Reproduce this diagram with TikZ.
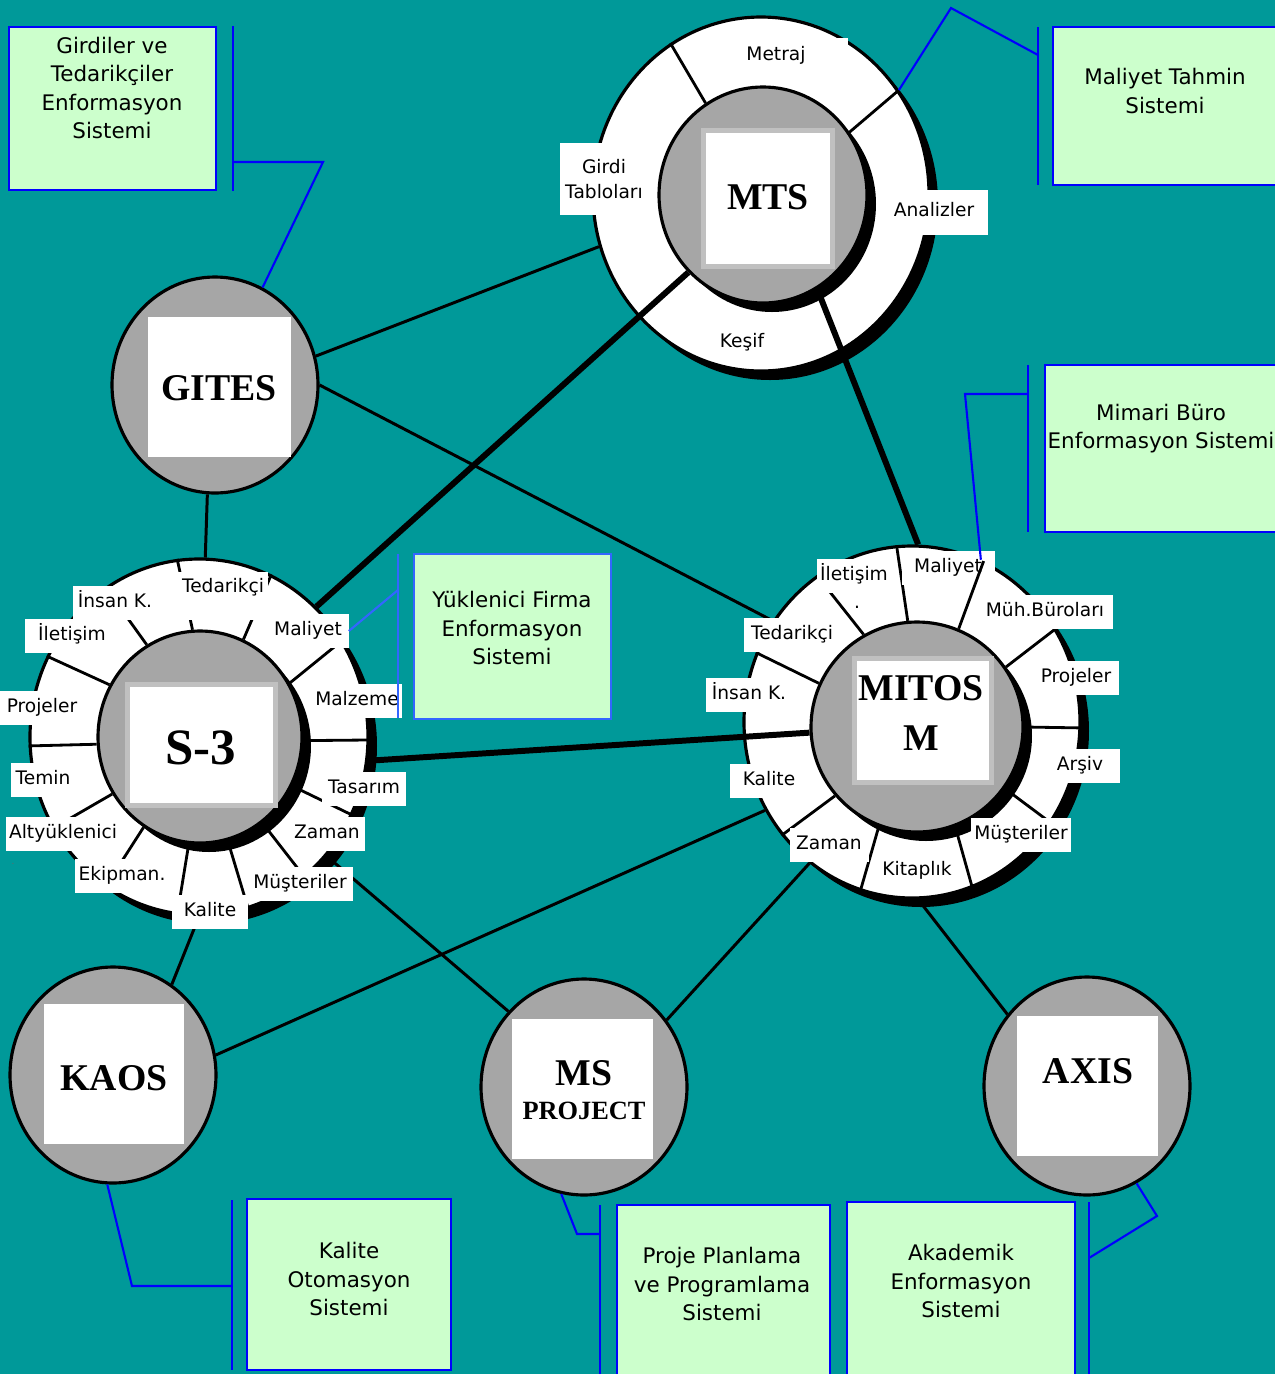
\documentclass[tikz,border=0pt]{standalone}
\usepackage{fontspec}
\setmainfont{DejaVu Sans}
\newfontfamily\hubfont{Liberation Serif}
\usetikzlibrary{shapes.geometric,shadows}

\definecolor{sea}{HTML}{009999}
\definecolor{mint}{HTML}{CCFFCC}
\definecolor{callblue}{HTML}{0000FF}
\definecolor{softblue}{HTML}{3366FF}
\definecolor{hubgrey}{HTML}{A6A6A6}
\definecolor{framegrey}{HTML}{C0C0C0}

\newcommand{\pix}{0.02cm}

\tikzset{
  shade it/.style={drop shadow={shadow xshift=0.18cm,shadow yshift=-0.18cm,opacity=1,fill=black}},
  ring/.style 2 args={ellipse,draw,line width=1.8pt,fill=white,inner sep=0pt,
    minimum width=#1*\pix,minimum height=#2*\pix,shade it},
  core/.style 2 args={ring={#1}{#2},fill=hubgrey},
  hub/.style 2 args={ellipse,draw,line width=1.8pt,fill=hubgrey,inner sep=0pt,
    minimum width=#1*\pix,minimum height=#2*\pix},
  plate/.style 2 args={rectangle,fill=white,draw=framegrey,line width=2.8pt,inner sep=0pt,
    minimum width=#1*\pix,minimum height=#2*\pix},
  hubtext/.style={font=\hubfont\bfseries\fontsize{21.5}{28.3}\selectfont,align=center,inner sep=0pt},
  lblbox/.style={fill=white,inner xsep=2pt,inner ysep=2pt,align=center,
    minimum height=34*\pix,font=\fontsize{10.6}{14.2}\selectfont},
  lbl/.style={lblbox,minimum width=#1*\pix,text height=7.8pt,text depth=2.4pt},
  infobox/.style 2 args={rectangle,draw=callblue,line width=1.3pt,fill=mint,inner sep=0pt,
    minimum width=#1*\pix,minimum height=#2*\pix},
  infotext/.style={font=\fontsize{12.2}{16.3}\selectfont,align=center,inner sep=0pt},
  link/.style={line width=1.7pt},
  heavy/.style={line width=3.4pt},
  spoke/.style={line width=1.6pt},
  callout/.style={callblue,line width=1.2pt}
}

\begin{document}
\begin{tikzpicture}[x=0.02cm,y=-0.02cm]
\useasboundingbox (0,0) rectangle (1275,1374);
\clip (0,0) rectangle (1275,1374);
\fill[sea] (0,0) rectangle (1275,1374);

% Hubs with rings
\node[ring={336}{354}] (mtsout) at (761,194) {};
\node[core={208}{216}] (mtsin) at (763,195) {};
\node[plate={129}{136}] (mtsplate) at (768,198.5) {};
\node[hubtext] (mtstxt) at (768,197) {MTS};

\node[ring={338}{356}] (s3out) at (199,737) {};
\node[core={204}{212}] (s3in) at (200,737) {};
\node[plate={148}{121}] (s3plate) at (201.5,745) {};
\node[hubtext,font=\hubfont\bfseries\fontsize{29}{34}\selectfont] (s3txt) at (201,748) {S-3};

\node[ring={336}{352}] (moout) at (912,722) {};
\node[core={212}{210}] (moin) at (917,727) {};
\node[plate={137}{124}] (moplate) at (923,720.5) {};
\node[hubtext] (motxt) at (921,713) {MITOS\\M};

% Plain hubs
\node[hub={206}{216}] (gites) at (215,385) {};
\node[plate={143}{140},draw=none] (gitesplate) at (219.5,387) {};
\node[hubtext] (gitestxt) at (219,388) {GITES};

\node[hub={206}{216}] (kaos) at (113,1075) {};
\node[plate={140}{140},draw=none] (kaosplate) at (114,1074) {};
\node[hubtext] (kaostxt) at (114,1078) {KAOS};

\node[hub={206}{216}] (ms) at (584,1087) {};
\node[plate={141}{140},draw=none] (msplate) at (582.5,1089) {};
\node[hubtext] (mstxt) at (584,1073) {MS};
\node[hubtext,font=\hubfont\bfseries\fontsize{15}{18}\selectfont] (msproj) at (584,1111) {PROJECT};

\node[hub={206}{218}] (axis) at (1087,1086) {};
\node[plate={141}{140},draw=none] (axisplate) at (1087.5,1086) {};
\node[hubtext] (axistxt) at (1088,1071) {AXIS};

% Links
\draw[link] (gites.16) -- (mtsout.198);
\draw[link] (gites.0) -- (moout.144);
\draw[link] (gites.266) -- (s3out.88);
\draw[heavy] (s3out.48) -- (mtsin.226);
\draw[heavy] (mtsin.300) -- (moout.88);
\draw[heavy] (s3out.352) -- (moin.183);
\draw[link] (s3out.317) -- (ms.135);
\draw[link] (s3out.270) -- (kaos.57);
\draw[link] (kaos.11) -- (moout.211);
\draw[link] (ms.39) -- (moout.234);
\draw[link] (axis.138) -- (moout.272);

% Spokes
\foreach \o/\i in {97/94,66/66,122/120,152/150,183/184,212/213,238/238,263/264,286/285,307/306,333/332,359/358,34/31}
  \draw[spoke] (s3in.\i) -- (s3out.\o);
\foreach \o/\i in {121/122,37/36}
  \draw[spoke] (mtsin.\i) -- (mtsout.\o);
\foreach \o/\i in {95/95,33/34,358/0,324/325,290/291,253/249,221/220,156/156,123/120}
  \draw[spoke] (moin.\i) -- (moout.\o);

% Ring labels
\node[lbl=144,minimum height=37*\pix] (mtsmet) at (776,56) {Metraj};
\node[lblbox,minimum width=88*\pix,minimum height=72*\pix] (mtsgir) at (604,179) {Girdi\\Tabloları};
\node[lbl=108,minimum height=45*\pix] (mtsana) at (934,212) {Analizler};
\node[lbl=60] (mtskes) at (742,343) {Keşif};

\node[lbl=90,text depth=11.5pt,minimum height=48*\pix] (s3ted) at (223,596) {Tedarikçi};
\foreach \x/\y/\w/\nm/\txt in {
  115/603/85/s3ins/İnsan K.,
  72/636/95/s3ilt/İletişim,
  42/708/85/s3prj/Projeler,
  43/780/64/s3tem/Temin,
  63/834/110/s3alt/Altyüklenici,
  122/876/89/s3ekp/Ekipman.,
  210/912/76/s3kal/Kalite,
  300/884/106/s3mus/Müşteriler,
  327/834/75/s3zam/Zaman,
  364/789/84/s3tas/Tasarım,
  357/701/90/s3mlz/Malzeme,
  308/631/81/s3mal/Maliyet}
  \node[lbl=\w] (\nm) at (\x,\y) {\txt};
\node[inner sep=0pt,font=\tiny,text=black!60] (s3dot) at (13,864) {.};

\foreach \x/\y/\w/\nm/\txt in {
  854/576/72/moilt/İletişim,
  948/568/93/momal/Maliyet,
  1045/612/135/momuh/Müh.Büroları,
  1076/678/85/moprj/Projeler,
  1080/766/80/moars/Arşiv,
  1021/835/99/momus/Müşteriler,
  917/871/76/mokit/Kitaplık,
  829/845/79/mozam/Zaman,
  769/781/78/mokal/Kalite,
  749/695/87/moins/İnsan K.,
  792/635/96/moted/Tedarikçi}
  \node[lbl=\w] (\nm) at (\x,\y) {\txt};
\node[inner sep=0pt,font=\fontsize{10.6}{14.2}\selectfont] (modot) at (857,607) {.};
\draw[spoke] (moin.67) -- (moout.66);

% Info boxes
\node[infobox={207}{163}] (girdbox) at (112.5,108.5) {};
\node[infotext] (girdtxt) at (112,88) {Girdiler ve\\Tedarikçiler\\Enformasyon\\Sistemi};
\node[infobox={242}{158}] (maltbox) at (1174,106) {};
\node[infotext] (malttxt) at (1165,91) {Maliyet Tahmin\\Sistemi};
\node[infobox={250}{167}] (mimbox) at (1170,448.5) {};
\node[infotext] (mimtxt) at (1161,428.5) {Mimari Büro\\Enformasyon Sistemi};
\node[infobox={197}{165},draw=softblue] (yukbox) at (512.5,636.5) {};
\node[infotext] (yuktxt) at (512,628) {Yüklenici Firma\\Enformasyon\\Sistemi};
\node[infobox={204}{171}] (kalbox) at (349,1284.5) {};
\node[infotext] (kaltxt) at (349,1279) {Kalite\\Otomasyon\\Sistemi};
\node[infobox={213}{185}] (prjbox) at (723.5,1297.5) {};
\node[infotext] (prjtxt) at (722,1284) {Proje Planlama\\ve Programlama\\Sistemi};
\node[infobox={228}{188}] (akdbox) at (961,1296) {};
\node[infotext] (akdtxt) at (961,1281) {Akademik\\Enformasyon\\Sistemi};

% Callouts
\coordinate (girdknee) at (323,162);
\coordinate (girdbar) at (233,162);
\draw[callout] (233,26) -- (233,191);
\draw[callout] (gites.64) -- (girdknee) -- (girdbar);

\coordinate (maltknee) at (951,8);
\coordinate (maltbar) at (1038,55);
\draw[callout] (1038,27) -- (1038,185);
\draw[callout] (mtsout.37) -- (maltknee) -- (maltbar);

\coordinate (mimknee) at (965,394);
\coordinate (mimbar) at (1028,394);
\draw[callout] (1028,365) -- (1028,532);
\draw[callout] (moout.67) -- (mimknee) -- (mimbar);

\coordinate (yukbar) at (398,590);
\draw[callout,softblue] (398,554) -- (398,718);
\draw[callout,softblue] (s3mal.east) -- (yukbar);

\coordinate (kalknee) at (132,1286);
\coordinate (kalbar) at (232,1286);
\draw[callout] (232,1200) -- (232,1370);
\draw[callout] (kaos.267) -- (kalknee) -- (kalbar);

\coordinate (prjknee) at (577,1234);
\coordinate (prjbar) at (600,1234);
\draw[callout] (600,1205) -- (600,1380);
\draw[callout] (ms.258) -- (prjknee) -- (prjbar);

\coordinate (akdknee) at (1157,1216);
\coordinate (akdbar) at (1089,1258);
\draw[callout] (1089,1202) -- (1089,1380);
\draw[callout] (axis.297) -- (akdknee) -- (akdbar);
\end{tikzpicture}
\end{document}
